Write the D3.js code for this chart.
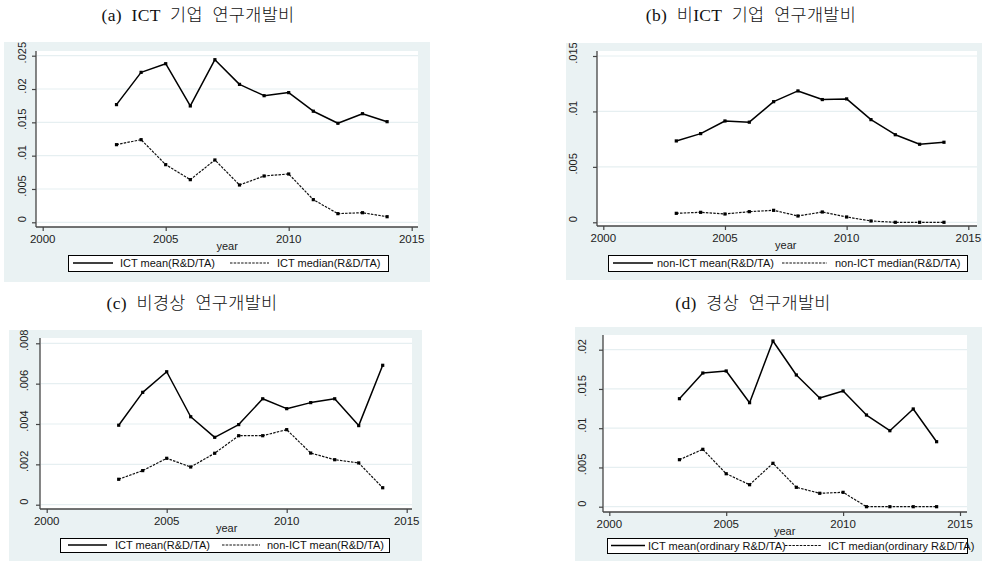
<!DOCTYPE html>
<html><head><meta charset="utf-8">
<script src="https://cdn.jsdelivr.net/npm/d3@7"></script>
<style>body{margin:0;background:#fff;} svg{display:block;}</style>
</head><body>
<svg id="c" width="982" height="562"></svg>
<script>
// ---------- data ----------
const years = [2003, 2004, 2005, 2006, 2007, 2008, 2009, 2010, 2011, 2012, 2013, 2014];
const xTicks = [2000, 2005, 2010, 2015];

// (a) ICT
const ictMean   = [0.01766, 0.0225, 0.0238, 0.01746, 0.0244, 0.0207, 0.0190, 0.01946, 0.01667, 0.01486, 0.0163, 0.0151];
const ictMedian = [0.01165, 0.0124, 0.00865, 0.0064, 0.00935, 0.0056, 0.00695, 0.00725, 0.0034, 0.0013, 0.00144, 0.00084];
// (b) non-ICT
const nonIctMean   = [0.00734, 0.0080, 0.00914, 0.00903, 0.01088, 0.01185, 0.01107, 0.01113, 0.00926, 0.0079, 0.00704, 0.00722];
const nonIctMedian = [0.00081, 0.0009, 0.00075, 0.00096, 0.00108, 0.00057, 0.00093, 0.00048, 0.00012, 0.0, 0.0, 0.0];
// (c) non-ordinary R&D
const nonOrdIctMean    = [0.00394, 0.00557, 0.00659, 0.00436, 0.00334, 0.00397, 0.00525, 0.00476, 0.00506, 0.00525, 0.00392, 0.00691];
const nonOrdNonIctMean = [0.00126, 0.00169, 0.0023, 0.00187, 0.00255, 0.00342, 0.00342, 0.00372, 0.00256, 0.00223, 0.00207, 0.00084];
// (d) ordinary R&D
const ordIctMean   = [0.01376, 0.01703, 0.01729, 0.01325, 0.02111, 0.01678, 0.01385, 0.01474, 0.01168, 0.00968, 0.01245, 0.00828];
const ordIctMedian = [0.00599, 0.00731, 0.0042, 0.0028, 0.00553, 0.00247, 0.00171, 0.00183, 0.0, 0.0, 0.0, 0.0];

const yTicksA = [0, 0.005, 0.01, 0.015, 0.02, 0.025];
const yTicksB = [0, 0.005, 0.01, 0.015];
const yTicksC = [0, 0.002, 0.004, 0.006, 0.008];
const yTicksD = [0, 0.005, 0.01, 0.015, 0.02];

const titles = ["(a) ICT 기업 연구개발비", "(b) 비ICT 기업 연구개발비", "(c) 비경상 연구개발비", "(d) 경상 연구개발비"];
const legendA = ["ICT mean(R&D/TA)", "ICT median(R&D/TA)"];
const legendB = ["non-ICT mean(R&D/TA)", "non-ICT median(R&D/TA)"];
const legendC = ["ICT mean(R&D/TA)", "non-ICT mean(R&D/TA)"];
const legendD = ["ICT mean(ordinary R&D/TA)", "ICT median(ordinary R&D/TA)"];
const xTitle = "year";

// ---------- layout ----------
const panels = [
  {title: titles[0], tx: 198, ty: 21, s1: ictMean, s2: ictMedian, yTicks: yTicksA, yDom: [0, 0.025], legend: legendA,
   bg: [4, 42, 430, 282], plot: [36, 51, 418, 227], xr: [42.7, 411.7], yr: [222.3, 55.7], ylx: 22,
   leg: {x0: 68, y0: 255, x1: 388, y1: 271, l1: [73, 113], t1: 120, l2: [230, 269], t2: 277}},
  {title: titles[1], tx: 751, ty: 21, s1: nonIctMean, s2: nonIctMedian, yTicks: yTicksB, yDom: [0, 0.015], legend: legendB,
   bg: [566, 43, 982, 280], plot: [597, 51, 977, 226], xr: [603.3, 968.3], yr: [222.3, 56], ylx: 573,
   leg: {x0: 608, y0: 255, x1: 967, y1: 271, l1: [613, 653], t1: 657, l2: [782, 827], t2: 835}},
  {title: titles[2], tx: 192, ty: 309, s1: nonOrdIctMean, s2: nonOrdNonIctMean, yTicks: yTicksC, yDom: [0, 0.008], legend: legendC,
   bg: [9, 330, 422, 561], plot: [40, 338, 412, 509], xr: [46.7, 406.7], yr: [504.7, 343.3], ylx: 23.5,
   leg: {x0: 60, y0: 538, x1: 389, y1: 552, l1: [68, 107], t1: 115, l2: [222, 260], t2: 267}},
  {title: titles[3], tx: 753, ty: 309, s1: ordIctMean, s2: ordIctMedian, yTicks: yTicksD, yDom: [0, 0.02], legend: legendD,
   bg: [575, 327, 982, 561], plot: [603, 335, 967, 512], xr: [609.3, 960], yr: [506.7, 349.7], ylx: 581.7,
   leg: {x0: 607, y0: 538, x1: 967, y1: 553, l1: [611, 645], t1: 648, l2: [785, 822], t2: 828}}
];

const BG = "#eaf2f3";
const GRID = "#e6eff1";
const AXIS = "#444";
const fmtY = d => d === 0 ? "0" : String(+d.toFixed(4)).replace(/^0/, "");
const svg = d3.select("#c");
const tickFont = "Liberation Sans, Arial, sans-serif";

panels.forEach((p, i) => {
  const g = svg.append("g");
  const [bx0, by0, bx1, by1] = p.bg;
  const [px0, py0, px1, py1] = p.plot;
  const clipId = "clip" + i;
  svg.append("defs").append("clipPath").attr("id", clipId)
    .append("rect").attr("x", bx0).attr("y", by0).attr("width", bx1 - bx0).attr("height", by1 - by0);

  // title
  svg.append("text").attr("x", p.tx).attr("y", p.ty).attr("text-anchor", "middle")
    .attr("font-family", "Liberation Serif, 'Noto Sans CJK KR', serif").attr("font-size", 17.5)
    .attr("font-weight", 300).attr("word-spacing", 5).attr("letter-spacing", 0.3)
    .attr("fill", "#111").text(p.title);

  g.append("rect").attr("x", bx0).attr("y", by0).attr("width", bx1 - bx0).attr("height", by1 - by0).attr("fill", BG);
  const inner = g.append("g").attr("clip-path", `url(#${clipId})`);
  inner.append("rect").attr("x", px0).attr("y", py0).attr("width", px1 - px0).attr("height", py1 - py0).attr("fill", "#fff");

  const x = d3.scaleLinear().domain([xTicks[0], xTicks[xTicks.length - 1]]).range(p.xr);
  const y = d3.scaleLinear().domain(p.yDom).range(p.yr);

  // grid lines
  inner.selectAll(".grid").data(p.yTicks).join("line")
    .attr("x1", px0 + 1).attr("x2", px1).attr("y1", d => y(d)).attr("y2", d => y(d))
    .attr("stroke", GRID).attr("stroke-width", 1.2);

  // y axis
  const yAxis = d3.axisLeft(y).tickValues(p.yTicks).tickSize(4).tickFormat("");
  const ya = inner.append("g").attr("transform", `translate(${px0},0)`).call(yAxis);
  ya.select(".domain").attr("d", `M0,${py0}V${py1}`).attr("stroke", AXIS).attr("stroke-width", 1.3);
  ya.selectAll(".tick line").attr("stroke", AXIS).attr("stroke-width", 1.2);
  inner.selectAll(".ylab").data(p.yTicks).join("text")
    .attr("transform", d => `translate(${p.ylx},${y(d) - 3}) rotate(-90)`)
    .attr("text-anchor", "middle").attr("dominant-baseline", "central")
    .attr("font-family", tickFont).attr("font-size", 11).attr("fill", "#222")
    .text(fmtY);

  // x axis
  const xAxis = d3.axisBottom(x).tickValues(xTicks).tickSize(4).tickFormat("");
  const xa = inner.append("g").attr("transform", `translate(0,${py1})`).call(xAxis);
  xa.select(".domain").attr("d", `M${px0},0H${px1}`).attr("stroke", AXIS).attr("stroke-width", 1.3);
  xa.selectAll(".tick line").attr("stroke", AXIS).attr("stroke-width", 1.2);
  inner.selectAll(".xlab").data(xTicks).join("text")
    .attr("x", d => x(d)).attr("y", py1 + 16).attr("text-anchor", "middle")
    .attr("font-family", tickFont).attr("font-size", 11.5).attr("fill", "#222").text(d => d);
  inner.append("text").attr("x", x(2007.5)).attr("y", py1 + 23).attr("text-anchor", "middle")
    .attr("font-family", tickFont).attr("font-size", 11).attr("fill", "#222").text(xTitle);

  // series
  const line = d3.line().x((d, k) => x(years[k])).y(d => y(d));
  inner.append("path").datum(p.s1).attr("d", line).attr("fill", "none")
    .attr("stroke", "#000").attr("stroke-width", 1.5).attr("stroke-linejoin", "round");
  inner.append("path").datum(p.s2).attr("d", line).attr("fill", "none")
    .attr("stroke", "#111").attr("stroke-width", 1.2).attr("stroke-dasharray", "2.5,1.2");
  [p.s1, p.s2].forEach(s => {
    inner.selectAll(null).data(s).join("rect")
      .attr("x", (d, k) => x(years[k]) - 1.6).attr("y", d => y(d) - 1.6)
      .attr("width", 3.2).attr("height", 3.2).attr("fill", "#000");
  });

  // legend
  const L = p.leg;
  const cy = (L.y0 + L.y1) / 2;
  inner.append("rect").attr("x", L.x0 + 0.5).attr("y", L.y0 + 0.5).attr("width", L.x1 - L.x0).attr("height", L.y1 - L.y0)
    .attr("fill", "#fff").attr("stroke", "#000").attr("stroke-width", 1);
  inner.append("line").attr("x1", L.l1[0]).attr("x2", L.l1[1]).attr("y1", cy).attr("y2", cy)
    .attr("stroke", "#000").attr("stroke-width", 1.5);
  inner.append("line").attr("x1", L.l2[0]).attr("x2", L.l2[1]).attr("y1", cy).attr("y2", cy)
    .attr("stroke", "#111").attr("stroke-width", 1.2).attr("stroke-dasharray", "2.5,1.2");
  inner.append("text").attr("x", L.t1).attr("y", cy + 4).attr("font-family", tickFont).attr("font-size", 11)
    .attr("fill", "#111").text(p.legend[0]);
  inner.append("text").attr("x", L.t2).attr("y", cy + 4).attr("font-family", tickFont).attr("font-size", 11)
    .attr("fill", "#111").text(p.legend[1]);
});
</script>
</body></html>
